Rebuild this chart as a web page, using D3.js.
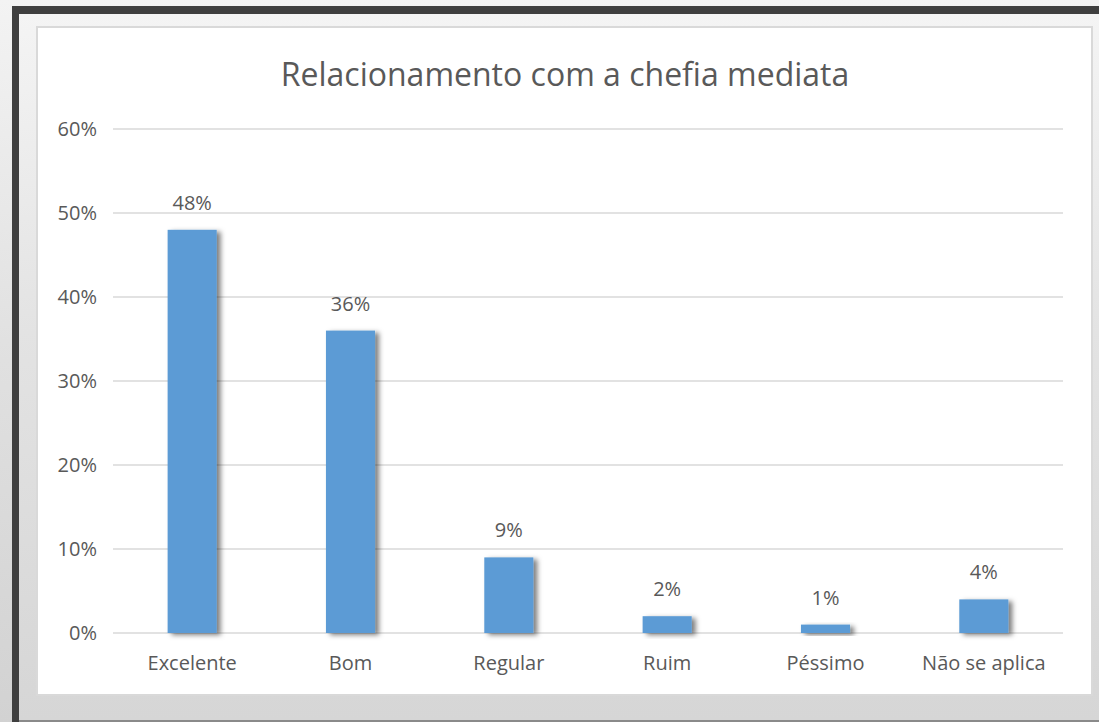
<!DOCTYPE html>
<html>
<head>
<meta charset="utf-8">
<script src="https://cdn.jsdelivr.net/npm/d3@7"></script>
<style>
  html, body { margin: 0; padding: 0; background: #efefef; }
  svg { display: block; }
  text { font-family: "Open Sans", "Liberation Sans", sans-serif; fill: #595959; }
</style>
</head>
<body>
<svg id="chart" width="1099" height="722"></svg>
<script>
const categories = ["Excelente", "Bom", "Regular", "Ruim", "Péssimo", "Não se aplica"];
const values = [0.48, 0.36, 0.09, 0.02, 0.01, 0.04];
const yTicks = [0, 0.1, 0.2, 0.3, 0.4, 0.5, 0.6];
const title = "Relacionamento com a chefia mediata";

const W = 1099, H = 722;
const svg = d3.select("#chart");
const defs = svg.append("defs");

// slide backdrop gradients
const bg = defs.append("linearGradient").attr("id", "bgGrad")
  .attr("x1", 0).attr("y1", 0).attr("x2", 0).attr("y2", 1);
bg.append("stop").attr("offset", 0).attr("stop-color", "#f3f3f3");
bg.append("stop").attr("offset", 0.5).attr("stop-color", "#e0e0e0");
bg.append("stop").attr("offset", 1).attr("stop-color", "#d2d2d2");

const panel = defs.append("linearGradient").attr("id", "panelGrad")
  .attr("x1", 0).attr("y1", 0).attr("x2", 0).attr("y2", 1);
panel.append("stop").attr("offset", 0).attr("stop-color", "#f4f4f4");
panel.append("stop").attr("offset", 0.45).attr("stop-color", "#e3e3e3");
panel.append("stop").attr("offset", 1).attr("stop-color", "#d6d6d6");

const shadow = defs.append("filter").attr("id", "barShadow")
  .attr("x", "-30%").attr("y", "-30%").attr("width", "180%").attr("height", "160%");
shadow.append("feDropShadow")
  .attr("dx", 4).attr("dy", 2).attr("stdDeviation", 2.4)
  .attr("flood-color", "#000").attr("flood-opacity", 0.5);

svg.append("rect").attr("width", W).attr("height", H).attr("fill", "url(#bgGrad)");

// dark frame (top and left) and bottom edge
svg.append("rect").attr("x", 12).attr("y", 6).attr("width", W - 12).attr("height", H - 6)
  .attr("fill", "#3f3f3f");
svg.append("rect").attr("x", 19).attr("y", 14).attr("width", W - 19).attr("height", H - 16)
  .attr("fill", "url(#panelGrad)");
svg.append("rect").attr("x", 19).attr("y", 720).attr("width", W - 19).attr("height", 2)
  .attr("fill", "#8a8a8a");

// chart area
svg.append("rect").attr("x", 37).attr("y", 27).attr("width", 1055).attr("height", 668)
  .attr("fill", "#ffffff").attr("stroke", "#d9d9d9").attr("stroke-width", 2);

const plot = { left: 113, right: 1063, top: 129, bottom: 633 };

const x = d3.scaleBand().domain(categories)
  .range([plot.left, plot.right]).paddingInner(0.69).paddingOuter(0.345);
const y = d3.scaleLinear().domain([0, 0.6]).range([plot.bottom, plot.top]);

// gridlines
svg.append("g").selectAll("line").data(yTicks).join("line")
  .attr("x1", plot.left).attr("x2", plot.right)
  .attr("y1", d => y(d)).attr("y2", d => y(d))
  .attr("stroke", "#d9d9d9").attr("stroke-width", 1.5);

// y axis labels
const yAxis = d3.axisLeft(y).tickValues(yTicks).tickFormat(d3.format(".0%")).tickSize(0).tickPadding(0);
const gy = svg.append("g").attr("transform", `translate(${plot.left - 16},0)`).call(yAxis);
gy.select(".domain").remove();
gy.selectAll("text").attr("font-size", 20).style("font-family", '"Open Sans", sans-serif').attr("fill", "#595959");

// x axis labels
const xAxis = d3.axisBottom(x).tickSize(0).tickPadding(0);
const gx = svg.append("g").attr("transform", `translate(0,${plot.bottom + 23})`).call(xAxis);
gx.select(".domain").remove();
gx.selectAll("text").attr("font-size", 20).style("font-family", '"Open Sans", sans-serif').attr("fill", "#595959");

// bars
svg.append("g").selectAll("rect").data(values).join("rect")
  .attr("x", (d, i) => x(categories[i]))
  .attr("width", x.bandwidth())
  .attr("y", d => y(d))
  .attr("height", d => y(0) - y(d))
  .attr("fill", "#5b9bd5")
  .attr("filter", "url(#barShadow)");

// value labels
svg.append("g").selectAll("text").data(values).join("text")
  .attr("x", (d, i) => x(categories[i]) + x.bandwidth() / 2)
  .attr("y", d => y(d) - 20)
  .attr("text-anchor", "middle")
  .attr("font-size", 20)
  .text(d3.format(".0%"));

// title
svg.append("text").attr("x", 565).attr("y", 86).attr("text-anchor", "middle")
  .attr("font-size", 32).text(title);
</script>
</body>
</html>
